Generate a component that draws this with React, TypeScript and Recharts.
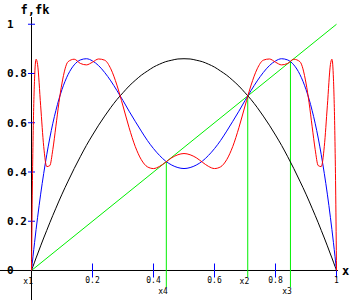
import React from "react";
import { Line, LineChart, ReferenceDot, ReferenceLine, XAxis, YAxis } from "recharts";

// sample points along x
const xs = [
  0, 0.0025, 0.005, 0.01, 0.015, 0.02, 0.03, 0.04, 0.05, 0.06, 0.07, 0.08, 0.09, 0.1, 0.12, 0.14, 0.16,
  0.18, 0.2, 0.22, 0.24, 0.26, 0.28, 0.3, 0.32, 0.34, 0.36, 0.38, 0.4, 0.42, 0.44, 0.46, 0.48, 0.5,
  0.52, 0.54, 0.56, 0.58, 0.6, 0.62, 0.64, 0.66, 0.68, 0.7, 0.72, 0.74, 0.76, 0.78, 0.8, 0.82, 0.84,
  0.86, 0.88, 0.9, 0.91, 0.92, 0.93, 0.94, 0.95, 0.96, 0.97, 0.98, 0.985, 0.99, 0.995, 0.9975, 1
];

// f (black)
const fValues = [
  0, 0.009, 0.017, 0.034, 0.051, 0.067, 0.1, 0.132, 0.163, 0.194, 0.224, 0.253, 0.282, 0.31, 0.363, 0.414, 0.462,
  0.508, 0.55, 0.59, 0.627, 0.662, 0.694, 0.722, 0.749, 0.772, 0.793, 0.81, 0.826, 0.838, 0.848, 0.854, 0.859, 0.86,
  0.859, 0.854, 0.848, 0.838, 0.826, 0.81, 0.793, 0.772, 0.749, 0.722, 0.694, 0.662, 0.627, 0.59, 0.55, 0.508, 0.462,
  0.414, 0.363, 0.31, 0.282, 0.253, 0.224, 0.194, 0.163, 0.132, 0.1, 0.067, 0.051, 0.034, 0.017, 0.009, 0
];

// f^2 (blue)
const f2Values = [
  0, 0.029, 0.058, 0.113, 0.166, 0.216, 0.31, 0.394, 0.47, 0.538, 0.598, 0.65, 0.696, 0.735, 0.796, 0.835, 0.855,
  0.86, 0.851, 0.832, 0.804, 0.77, 0.731, 0.69, 0.647, 0.606, 0.566, 0.528, 0.495, 0.467, 0.444, 0.428, 0.418, 0.414,
  0.418, 0.428, 0.444, 0.467, 0.495, 0.528, 0.566, 0.606, 0.647, 0.69, 0.731, 0.77, 0.804, 0.832, 0.851, 0.86, 0.855,
  0.835, 0.796, 0.735, 0.696, 0.65, 0.598, 0.538, 0.47, 0.394, 0.31, 0.216, 0.166, 0.113, 0.058, 0.029, 0
];

// f^4 (red)
const f4Values = [
  0, 0.303, 0.524, 0.778, 0.858, 0.836, 0.669, 0.504, 0.422, 0.426, 0.492, 0.586, 0.682, 0.761, 0.848, 0.858, 0.841,
  0.835, 0.846, 0.859, 0.854, 0.819, 0.753, 0.668, 0.58, 0.504, 0.45, 0.421, 0.414, 0.423, 0.44, 0.458, 0.47, 0.475,
  0.47, 0.458, 0.44, 0.423, 0.414, 0.421, 0.45, 0.504, 0.58, 0.668, 0.753, 0.819, 0.854, 0.859, 0.846, 0.835, 0.841,
  0.858, 0.848, 0.761, 0.682, 0.586, 0.492, 0.426, 0.422, 0.504, 0.669, 0.836, 0.858, 0.778, 0.524, 0.303, 0
];

// y = x
const diagX = [0, 1];
const diagY = [0, 1];

// marked points x1..x4
const markerNames = ["x1", "x2", "x3", "x4"];
const markerValues = [0, 0.709, 0.849, 0.442];

const xTicks = [0.2, 0.4, 0.6, 0.8, 1];
const xTickLabels = ["0.2", "0.4", "0.6", "0.8", "1"];
const yTicks = [0, 0.2, 0.4, 0.6, 0.8, 1];
const yTickLabels = ["0", "0.2", "0.4", "0.6", "0.8", "1"];

const table = xs.map((x, i) => ({ x, f: fValues[i], f2: f2Values[i], f4: f4Values[i] }));
const diagonal = diagX.map((x, i) => ({ x, d: diagY[i] }));

const mono = "'DejaVu Sans Mono', monospace";
const GREEN = "#00f000";
const BLUE = "#0000ff";

export default function App() {
  return (
    <div style={{ position: "absolute", left: 0, top: 0, width: 350, height: 300, background: "#fff" }}>
      <LineChart width={350} height={300} data={table} margin={{ top: 17, right: 12, bottom: 0, left: 0 }}>
        <XAxis type="number" dataKey="x" domain={[-0.10328, 1.0049]} hide allowDataOverflow />
        <YAxis type="number" domain={[-0.1198, 1.02944]} hide allowDataOverflow />

        {/* axes */}
        <ReferenceLine
          y={0}
          stroke="#000"
          strokeWidth={1}
          label={(p: any) => (
            <text x={p.viewBox.x + p.viewBox.width + 4} y={p.viewBox.y + 4.5} fontFamily={mono} fontWeight="bold" fontSize={12} fill="#000">
              x
            </text>
          )}
        />
        <ReferenceLine
          x={0}
          stroke="#000"
          strokeWidth={1}
          label={(p: any) => (
            <text x={p.viewBox.x + 3.5} y={p.viewBox.y - 3} textAnchor="middle" fontFamily={mono} fontWeight="bold" fontSize={12} fill="#000">
              f,fk
            </text>
          )}
        />

        {/* x ticks */}
        {xTicks.map((t, i) => (
          <ReferenceLine
            key={"xt" + i}
            segment={[{ x: t, y: -0.0284 }, { x: t, y: 0.0284 }]}
            stroke={BLUE}
            strokeWidth={1}
            label={(p: any) => (
              <text x={p.viewBox.x} y={p.viewBox.y + p.viewBox.height + 6} textAnchor="middle" fontFamily={mono} fontSize={8} fill="#000">
                {xTickLabels[i]}
              </text>
            )}
          />
        ))}

        {/* y ticks */}
        {yTicks.map((t, i) =>
          t > 0 ? (
            <ReferenceLine
              key={"yt" + i}
              segment={[{ x: -0.0115, y: t }, { x: 0.0115, y: t }]}
              stroke={BLUE}
              strokeWidth={1}
            />
          ) : null
        )}
        {yTicks.map((t, i) => (
          <ReferenceDot
            key={"yl" + i}
            x={0}
            y={t}
            r={0}
            stroke="none"
            fill="none"
            label={(p: any) => (
              <text x={7} y={p.viewBox.y + 4} fontFamily={mono} fontWeight="bold" fontSize={11} fill="#000">
                {yTickLabels[i]}
              </text>
            )}
          />
        ))}

        {/* vertical markers */}
        {markerValues.map((v, i) => (
          <ReferenceLine
            key={markerNames[i]}
            segment={[{ x: v, y: i < 2 ? -0.027 : -0.068 }, { x: v, y: v }]}
            stroke={i === 0 ? "none" : GREEN}
            strokeWidth={1}
            label={(p: any) => (
              <text x={p.viewBox.x + 1.5} y={p.viewBox.y + p.viewBox.height + 6.5} textAnchor="end" fontFamily={mono} fontSize={8} fill="#000">
                {markerNames[i]}
              </text>
            )}
          />
        ))}

        <Line data={diagonal} dataKey="d" type="linear" stroke={GREEN} strokeWidth={1} dot={false} isAnimationActive={false} />
        <Line dataKey="f" type="monotone" stroke="#000" strokeWidth={1} dot={false} isAnimationActive={false} />
        <Line dataKey="f2" type="monotone" stroke={BLUE} strokeWidth={1} dot={false} isAnimationActive={false} />
        <Line dataKey="f4" type="monotone" stroke="#ff0000" strokeWidth={1} dot={false} isAnimationActive={false} />
      </LineChart>
    </div>
  );
}
